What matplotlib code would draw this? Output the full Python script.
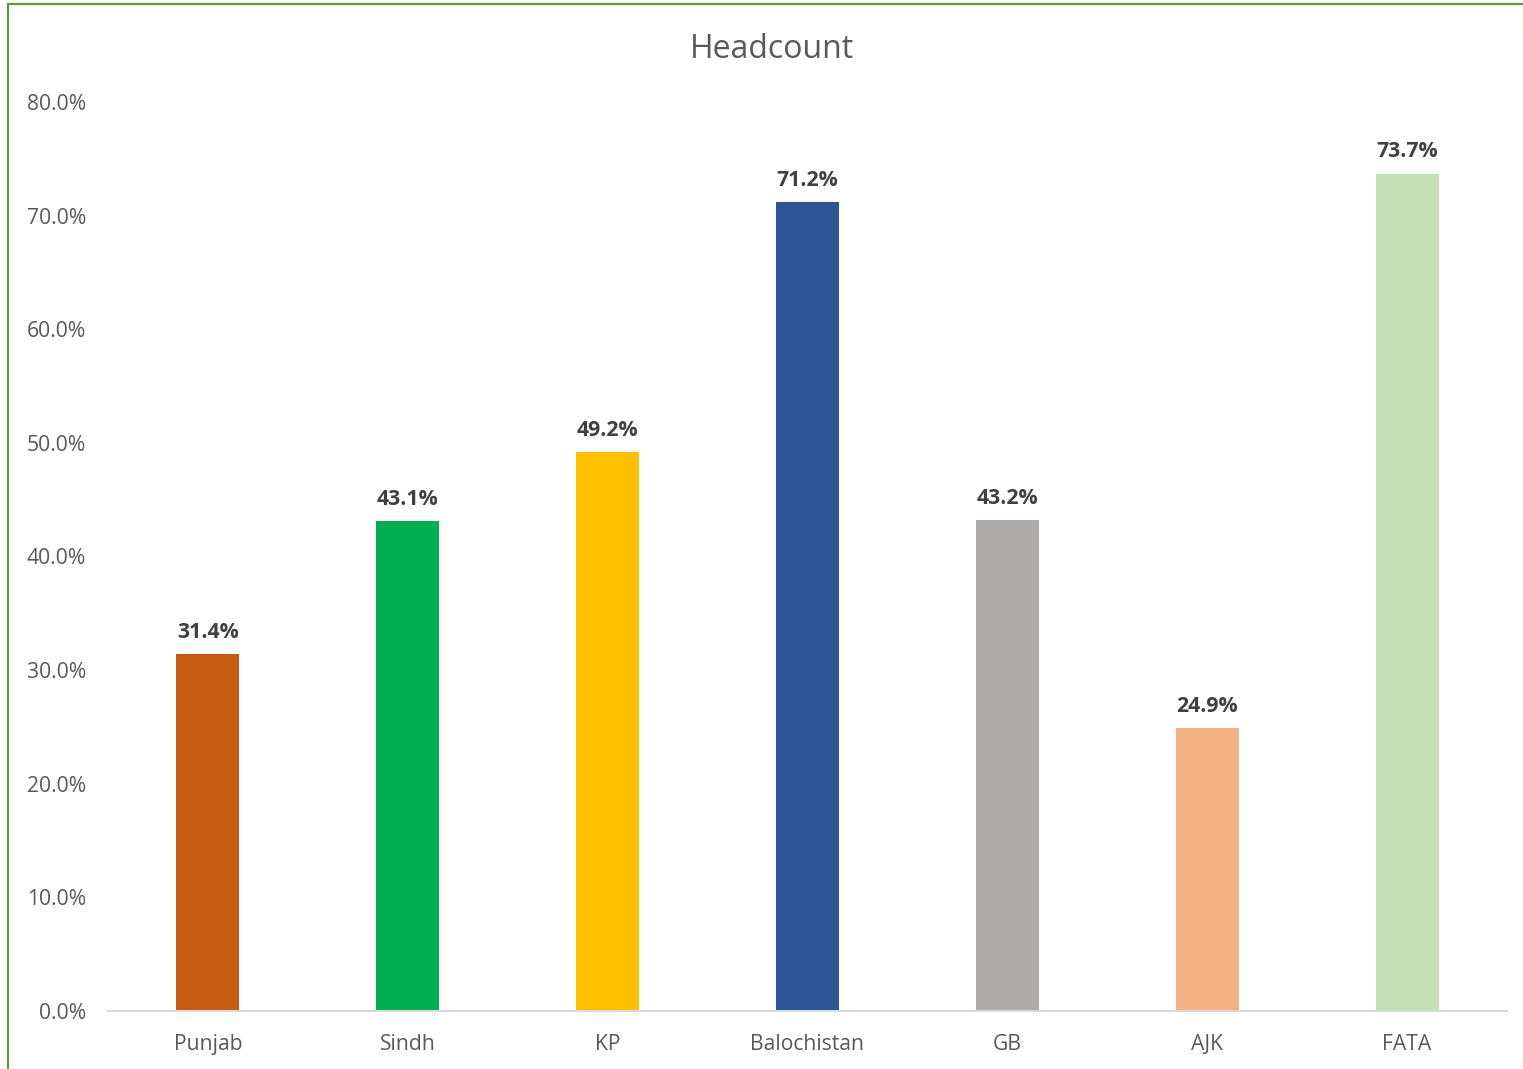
import matplotlib.pyplot as plt
from matplotlib.patches import Rectangle

regions = ["Punjab", "Sindh", "KP", "Balochistan", "GB", "AJK", "FATA"]
headcount = [31.4, 43.1, 49.2, 71.2, 43.2, 24.9, 73.7]
colors = ["#C55A11", "#00B050", "#FFC000", "#2F5597", "#AFABAB", "#F4B183", "#C5E0B4"]
yticks = [0, 10, 20, 30, 40, 50, 60, 70, 80]

plt.rcParams['font.family'] = ['Open Sans', 'DejaVu Sans']

W, H = 1523, 1069
fig = plt.figure(figsize=(W / 100, H / 100), dpi=100)
ax = fig.add_axes([108 / W, 58 / H, (1507 - 108) / W, (1011 - 102) / H])

x = range(len(regions))
ax.bar(x, headcount, width=0.315, color=colors)
for xi, v in zip(x, headcount):
    ax.text(xi, v + 1.0, f"{v:.1f}%", ha="center", va="bottom",
            fontsize=15.3, fontweight="bold", color="#404040")

ax.set_xlim(-0.5, len(regions) - 0.5)
ax.set_ylim(0, 80)
ax.set_yticks(yticks)
ax.set_yticklabels([f"{t:.1f}%" for t in yticks])
ax.set_xticks(list(x))
ax.set_xticklabels(regions)
ax.tick_params(axis="both", length=0, labelsize=15.2, labelcolor="#595959")
ax.tick_params(axis="y", pad=16)
ax.tick_params(axis="x", pad=16.5)
for s in ["top", "right", "left"]:
    ax.spines[s].set_visible(False)
ax.spines["bottom"].set_color("#D9D9D9")
ax.spines["bottom"].set_linewidth(1.5)

fig.text(772 / W, 1 - 49 / H, "Headcount", ha="center", va="center",
         fontsize=23, color="#595959")

# chart border (cut off at right and bottom in the original)
fig.patches.append(Rectangle((8 / W, -0.1), 1.2, 1 - 4 / H + 0.1,
                             transform=fig.transFigure, fill=False,
                             edgecolor="#5E9A3A", linewidth=1.6))

fig.savefig("out.png", dpi=100)
